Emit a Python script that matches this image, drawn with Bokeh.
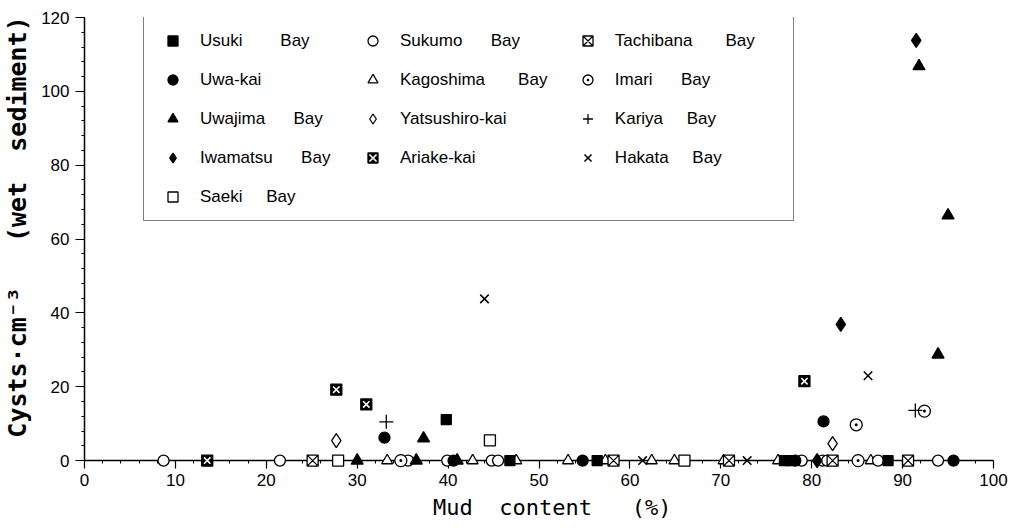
from bokeh.plotting import figure
from bokeh.models import Range1d, Legend, LegendItem, SingleIntervalTicker, Span
from bokeh.embed import file_html
from bokeh.resources import INLINE

NB = "\u00a0"

# ---- data (mud content %, cysts per cm3 wet sediment) ----
usuki_x = [39.8, 46.8, 56.4, 77.0, 77.6, 88.4]
usuki_y = [11.1, 0, 0, 0, 0, 0]
uwakai_x = [33.0, 81.3, 40.6, 54.8, 78.2, 95.6]
uwakai_y = [6.2, 10.6, 0, 0, 0, 0]
uwajima_x = [37.3, 91.8, 95.0, 93.9, 30.0, 36.5, 41.0]
uwajima_y = [6.0, 106.8, 66.4, 28.7, 0, 0, 0]
iwamatsu_x = [91.5, 83.2, 80.6]
iwamatsu_y = [113.8, 36.9, 0]
saeki_x = [44.6, 27.9, 66.0]
saeki_y = [5.5, 0, 0]
sukumo_x = [8.7, 21.5, 35.6, 39.9, 44.8, 45.5, 78.9, 81.2, 81.7, 87.3, 93.9]
sukumo_y = [0, 0, 0, 0, 0, 0, 0, 0, 0, 0, 0]
kagoshima_x = [33.3, 42.7, 47.5, 53.2, 57.3, 62.4, 64.9, 70.3, 76.3, 86.5]
kagoshima_y = [0, 0, 0, 0, 0, 0, 0, 0, 0, 0]
yatsushiro_x = [27.7, 82.3]
yatsushiro_y = [5.4, 4.6]
ariake_x = [27.7, 31.0, 79.2, 13.5]
ariake_y = [19.2, 15.2, 21.5, 0]
tachibana_x = [25.1, 58.2, 70.9, 82.3, 90.6]
tachibana_y = [0, 0, 0, 0, 0]
imari_x = [84.9, 92.4, 34.8, 85.1]
imari_y = [9.7, 13.4, 0, 0]
kariya_x = [33.2, 91.4]
kariya_y = [10.5, 13.6]
hakata_x = [44.0, 86.2, 61.4, 72.9]
hakata_y = [43.8, 23.0, 0, 0]

x_ticks_interval = 10
y_ticks_interval = 20

FONT = "'Liberation Sans', Arial, sans-serif"

p = figure(width=1008, height=527, x_range=Range1d(0, 100), y_range=Range1d(-1.6, 120),
           output_backend="svg", toolbar_location=None,
           min_border_left=84, min_border_right=15, min_border_top=17, min_border_bottom=61)
p.grid.visible = False
p.outline_line_color = None
p.background_fill_color = "white"

# baseline (y = 0) drawn as the x axis line
p.add_layout(Span(location=0, dimension="width", line_color="black", line_width=1.5, level="underlay"))

xa = p.xaxis[0]
xa.ticker = SingleIntervalTicker(interval=x_ticks_interval, num_minor_ticks=5)
ya = p.yaxis[0]
ya.bounds = (0, 120)
ya.ticker = SingleIntervalTicker(interval=y_ticks_interval, num_minor_ticks=5)

for ax in (xa, ya):
    ax.axis_line_color = "black"
    ax.axis_line_width = 1.5
    ax.major_tick_line_color = "black"
    ax.major_tick_line_width = 1.2
    ax.minor_tick_line_color = "black"
    ax.major_label_text_font = FONT
    ax.major_label_text_font_size = "17px"
    ax.major_label_text_color = "black"
    ax.axis_label_text_color = "black"
    ax.axis_label_text_font_style = "normal"

xa.axis_line_color = None
xa.major_tick_in = 6
xa.major_tick_out = 2
xa.minor_tick_in = 6
xa.minor_tick_out = -3
xa.major_label_standoff = 5
xa.axis_label = NB * 2 + "Mud" + NB * 2 + "content" + NB * 3 + "(%)"
xa.axis_label_text_font = "DejaVu Sans Mono"
xa.axis_label_text_font_size = "22px"
xa.axis_label_standoff = 6

ya.major_tick_in = 0
ya.minor_tick_in = 0
ya.major_tick_out = 9
ya.minor_tick_out = 3
ya.major_label_standoff = 6
ya.axis_label = NB * 2 + "Cysts\u00b7cm\u207b\u00b3" + NB * 3 + "(wet" + NB * 2 + "sediment)"
ya.axis_label_text_font = "DejaVu Sans Mono"
ya.axis_label_text_font_style = "bold"
ya.axis_label_text_font_size = "25px"
ya.axis_label_standoff = 6

def sc(x, y, marker, size, fill, line="black", lw=1.3):
    r = p.scatter(x, y, marker=marker, size=size, fill_color=fill, line_color=line, line_width=lw)
    r.level = "overlay"
    return r

r_kago = sc(kagoshima_x, kagoshima_y, "triangle", 11, "white")
r_suku = sc(sukumo_x, sukumo_y, "circle", 11, "white")
r_tach = sc(tachibana_x, tachibana_y, "square_x", 11, "white")
r_saek = sc(saeki_x, saeki_y, "square", 11, "white")
r_yats = sc(yatsushiro_x, yatsushiro_y, "diamond", 14, "white")
r_imar = sc(imari_x, imari_y, "circle_dot", 12, "white")
r_kari = sc(kariya_x, kariya_y, "cross", 14, None, lw=1.3)
r_haka = sc(hakata_x, hakata_y, "x", 12, None, lw=1.5)
r_aria1 = sc(ariake_x, ariake_y, "square", 11, "black")
r_aria2 = sc(ariake_x, ariake_y, "x", 9, None, line="white", lw=1.6)
r_usuk = sc(usuki_x, usuki_y, "square", 10, "black")
r_uwak = sc(uwakai_x, uwakai_y, "circle", 11, "black")
r_uwaj = sc(uwajima_x, uwajima_y, "triangle", 12, "black")
r_iwam = sc(iwamatsu_x, iwamatsu_y, "diamond", 14, "black")

def lab(a, b, gap, trail=0):
    return a + NB * gap + b + NB * trail

items = [
    LegendItem(label=lab("Usuki", "Bay", 8), renderers=[r_usuk]),
    LegendItem(label=lab("Sukumo", "Bay", 6), renderers=[r_suku]),
    LegendItem(label=lab("Tachibana", "Bay", 7, 6), renderers=[r_tach]),
    LegendItem(label="Uwa-kai", renderers=[r_uwak]),
    LegendItem(label=lab("Kagoshima", "Bay", 7, 2), renderers=[r_kago]),
    LegendItem(label=lab("Imari", "Bay", 6), renderers=[r_imar]),
    LegendItem(label=lab("Uwajima", "Bay", 6), renderers=[r_uwaj]),
    LegendItem(label="Yatsushiro-kai", renderers=[r_yats]),
    LegendItem(label=lab("Kariya", "Bay", 5), renderers=[r_kari]),
    LegendItem(label=lab("Iwamatsu", "Bay", 6), renderers=[r_iwam]),
    LegendItem(label="Ariake-kai", renderers=[r_aria1, r_aria2]),
    LegendItem(label=lab("Hakata", "Bay", 5), renderers=[r_haka]),
    LegendItem(label=lab("Saeki", "Bay", 5), renderers=[r_saek]),
]

legend = Legend(items=items, location=(59, 245), orientation="horizontal", ncols=3,
                glyph_width=37, glyph_height=25, label_height=27, label_width=142,
                label_standoff=9, spacing=12, padding=10, margin=0,
                border_line_color="black", border_line_width=1.5,
                background_fill_color="white", background_fill_alpha=1.0,
                label_text_font=FONT, label_text_font_size="17px",
                label_text_color="black", click_policy="none")
p.add_layout(legend)

open("out.html", "w").write(file_html(p, INLINE))
